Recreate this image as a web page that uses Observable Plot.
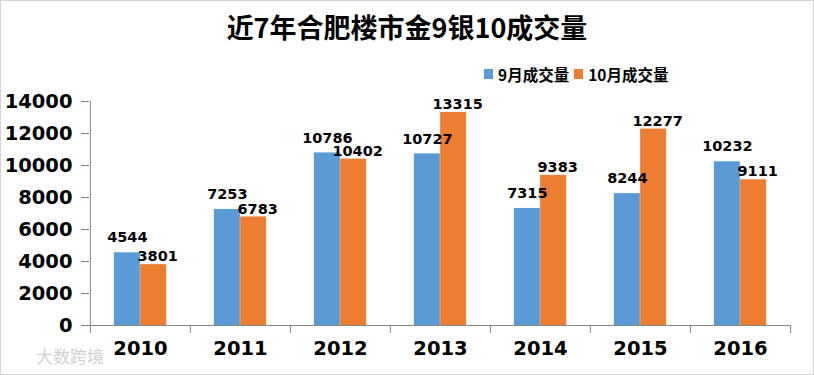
<!DOCTYPE html>
<html><head><meta charset="utf-8">
<script src="https://cdn.jsdelivr.net/npm/d3@7"></script>
<script src="https://cdn.jsdelivr.net/npm/@observablehq/plot@0.6"></script>
<style>
body{margin:0;background:#fff;}
#wrap{position:relative;width:814px;height:375px;overflow:hidden;font-family:"Noto Sans CJK SC",sans-serif;}
#border{position:absolute;left:0;top:0;width:812px;height:373px;border:1px solid #d4d4d4;pointer-events:none;z-index:3}
#title{position:absolute;left:0;width:814px;top:8px;text-align:center;font-size:27px;font-weight:bold;line-height:38px;z-index:2}
#legend{position:absolute;left:484px;top:63px;font-size:15.5px;font-weight:bold;display:flex;align-items:center;line-height:22px;z-index:2}
#legend span.item{display:flex;align-items:center;margin-right:5px}
.sw{display:inline-block;width:9px;height:10px;margin-right:5px}
#wm{position:absolute;left:36px;top:343px;color:#d0d0d0;font-size:17px;z-index:2}
#chart svg{position:absolute;left:0;top:0}
</style></head>
<body>
<div id="wrap">
  <div id="border"></div>
  <div id="title"></div>
  <div id="legend"></div>
  <div id="wm">大数跨境</div>
  <div id="chart"></div>
</div>
<script>
const titleText = "近7年合肥楼市金9银10成交量";
const years = ["2010","2011","2012","2013","2014","2015","2016"];
const sepValues = [4544, 7253, 10786, 10727, 7315, 8244, 10232];
const octValues = [3801, 6783, 10402, 13315, 9383, 12277, 9111];
const seriesNames = ["9月成交量", "10月成交量"];
const yTicks = [0, 2000, 4000, 6000, 8000, 10000, 12000, 14000];
const colors = ["#5B9BD5", "#ED7D31"];

document.getElementById("title").textContent = titleText;
const leg = document.getElementById("legend");
seriesNames.forEach((n, i) => {
  const s = document.createElement("span");
  s.className = "item";
  s.innerHTML = `<span class="sw" style="background:${colors[i]}"></span>${n}`;
  leg.appendChild(s);
});

const W = 814, H = 375, mL = 89, mR = 23, mT = 101, mB = 50;
const bandW = (W - mL - mR) / years.length;
const barW = 26.3;
const gap = (bandW - 2 * barW) / 2;

const sepData = years.map((y, i) => ({year: y, v: sepValues[i]}));
const octData = years.map((y, i) => ({year: y, v: octValues[i]}));
const axisColor = "#868686";
const numFont = "DejaVu Sans";

const chart = Plot.plot({
  width: W, height: H,
  marginLeft: mL, marginRight: mR, marginTop: mT, marginBottom: mB,
  style: {fontFamily: numFont, background: "transparent", color: "#000"},
  x: {domain: years, padding: 0, axis: null},
  y: {domain: [0, 14000], axis: null},
  marks: [
    Plot.barY(sepData, {x: "year", y: "v", fill: colors[0], insetLeft: gap, insetRight: gap + barW}),
    Plot.barY(octData, {x: "year", y: "v", fill: colors[1], insetLeft: gap + barW, insetRight: gap}),
    Plot.ruleY([0], {stroke: axisColor}),
    Plot.ruleX([years[0]], {x: d => d, dx: -bandW / 2, y1: () => 0, y2: () => 14000, stroke: axisColor}),
    Plot.ruleX(years, {x: d => d, dx: -bandW / 2, y1: () => 0, y2: () => 0, insetBottom: -8, stroke: axisColor}),
    Plot.ruleX([years[years.length - 1]], {x: d => d, dx: bandW / 2, y1: () => 0, y2: () => 0, insetBottom: -8, stroke: axisColor}),
    Plot.axisY({ticks: yTicks, label: null, tickSize: 8, tickPadding: 9, stroke: axisColor, fill: "#000", fontSize: 19.5, fontWeight: "bold", fontFamily: numFont, tickFormat: d => String(d)}),
    Plot.axisX({label: null, tickSize: 0, tickPadding: 16, fill: "#000", fontSize: 19.5, fontWeight: "bold", fontFamily: numFont}),
    Plot.text(sepData, {x: "year", y: "v", text: d => String(d.v), dx: -barW / 2, dy: -15, fontSize: 14.5, fontWeight: "bold", fill: "#000", lineAnchor: "middle"}),
    Plot.text(octData, {x: "year", y: "v", text: d => String(d.v), dx: barW / 2 + 4, dy: -8, fontSize: 14.5, fontWeight: "bold", fill: "#000", lineAnchor: "middle"})
  ]
});
document.getElementById("chart").appendChild(chart);
</script>
</body></html>
